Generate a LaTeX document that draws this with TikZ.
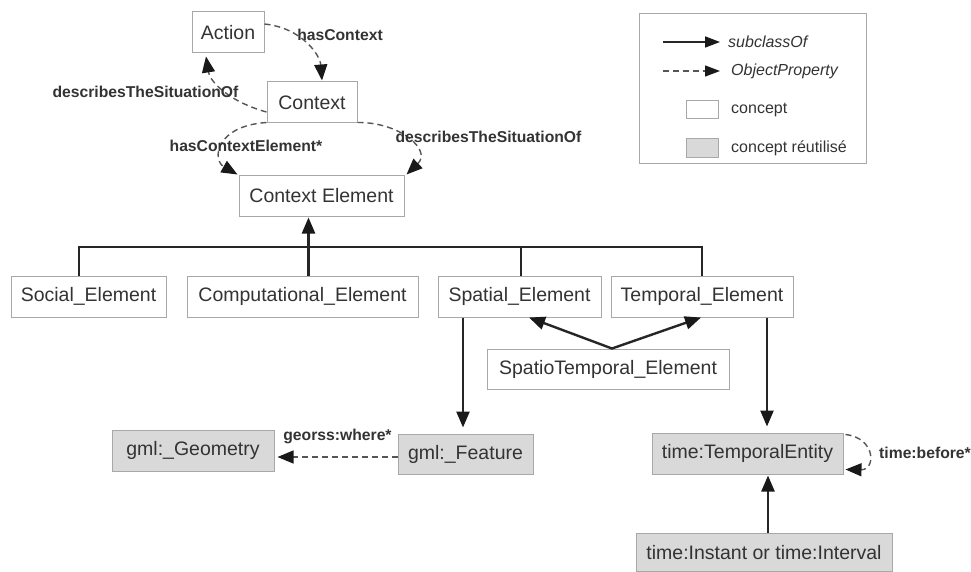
\documentclass[tikz,border=0pt]{standalone}
\usepackage{fontspec}
\setmainfont{Liberation Sans}
\usetikzlibrary{arrows.meta,calc}
\definecolor{txt}{HTML}{333333}
\definecolor{bord}{HTML}{A8A8A8}
\definecolor{reuse}{HTML}{D9D9D9}
\definecolor{dashc}{HTML}{555555}
\tikzset{
  concept/.style={draw=bord, line width=1pt, fill=white, inner sep=0pt, minimum height=41pt, text=txt, font=\fontsize{19.5}{22}\selectfont},
  reused/.style={concept, fill=reuse},
  sub/.style={line width=2.4pt, draw=black!85, -{Triangle[length=16pt,width=13pt,color=black!90]}},
  prop/.style={line width=1.4pt, draw=dashc, dash pattern=on 6pt off 4pt, -{Triangle[length=16pt,width=13pt,color=black!90]}},
  lbl/.style={font=\bfseries\fontsize{15.7}{18}\selectfont, text=txt, inner sep=0pt},
  legtxt/.style={font=\fontsize{16}{19}\selectfont, text=txt, inner sep=0pt, anchor=west},
  busline/.style={line width=2.4pt, draw=black!85}
}
\begin{document}
\begin{tikzpicture}[x=1pt,y=-1pt]
\useasboundingbox (0,0) rectangle (971,572);
% nodes
\node[concept, minimum width=72pt] (act) at (228,32.5) {Action};
\node[concept, minimum width=90pt] (ctx) at (312,102.5) {Context};
\node[concept, minimum width=165pt, minimum height=40pt] (ce) at (321.5,196) {Context Element};
\node[concept, minimum width=155pt] (soc) at (88.5,296.5) {Social\_Element};
\node[concept, minimum width=231pt] (comp) at (302.5,296.5) {Computational\_Element};
\node[concept, minimum width=163pt] (spa) at (519.5,296.5) {Spatial\_Element};
\node[concept, minimum width=182pt] (tem) at (702,296.5) {Temporal\_Element};
\node[concept, minimum width=242pt, minimum height=40pt] (st) at (608,369) {SpatioTemporal\_Element};
\node[reused, minimum width=162pt] (geo) at (193,450.5) {gml:\_Geometry};
\node[reused, minimum width=135pt, minimum height=40pt] (feat) at (465.5,454) {gml:\_Feature};
\node[reused, minimum width=191pt] (te) at (747.5,453.5) {time:TemporalEntity};
\node[reused, minimum width=256pt, minimum height=38pt] (inst) at (764,552.5) {time:Instant or time:Interval};

% bus
\coordinate (b1) at (79,247);
\coordinate (b2) at (308.5,247);
\coordinate (b3) at (521,247);
\coordinate (b4) at (702,247);
\draw[busline] (b1 |- soc.north) -- (b1) -- (b4) -- (b4 |- tem.north);
\draw[busline] (b2 |- comp.north) -- (b2);
\draw[busline] (b3 |- spa.north) -- (b3);
\draw[sub, shorten >=1pt] (b2) -- (b2 |- ce.south);

% spatio temporal
\coordinate (stt) at ($(st.north)+(4,0)$);
\draw[sub, line cap=round] (stt) -- ($(spa.south)+(9.5,0)$);
\draw[sub, line cap=round] (stt) -- ($(tem.south)+(-1,0)$);

% downward arrows
\coordinate (sx) at (463,0);
\coordinate (tx) at (767,0);
\coordinate (ix) at (768,0);
\draw[sub, shorten >=6pt] (sx |- spa.south) -- (sx |- feat.north);
\draw[sub, shorten >=6pt] (tx |- tem.south) -- (tx |- te.north);
\draw[sub, shorten >=1pt] (ix |- inst.north) -- (ix |- te.south);

% object properties
\draw[prop] ($(act.east)+(0,-8.5)$) .. controls (302,28) and (320,55) .. ($(ctx.north)+(10,-1)$);
\draw[prop] ($(ctx.west)+(0,9.5)$) .. controls (230,102) and (210,82) .. ($(act.south)+(-22,3)$);
\draw[prop] ($(ctx.south west)+(0,-1)$) .. controls (215,126) and (212,160) .. ($(ce.north west)+(-1,-1)$);
\draw[prop] ($(ctx.south east)+(0,-1)$) .. controls (400,122) and (432,150) .. ($(ce.north east)+(2,-1)$);
\coordinate (g1) at ($(feat.west)+(0,3)$);
\draw[prop, shorten >=3pt] (g1) -- (g1 -| geo.east);
\draw[prop] ($(te.north east)+(2,2)$) .. controls (876,438) and (876,470) .. ($(te.east)+(2,16)$);

% labels
\node[lbl] (l1) at (340,35) {hasContext};
\node[lbl] (l2) at (145.5,92) {describesTheSituationOf};
\node[lbl] (l3) at (246,146) {hasContextElement*};
\node[lbl] (l4) at (488.5,137) {describesTheSituationOf};
\node[lbl] (l5) at (337.5,436) {georss:where*};
\node[lbl] (l6) at (925,453) {time:before*};

% legend
\node[draw=bord, line width=1pt, minimum width=227pt, minimum height=150pt, inner sep=0pt] (leg) at (752.5,89) {};
\coordinate (la1) at (663,42);
\coordinate (la2) at (720,42);
\coordinate (lb1) at (663,71);
\coordinate (lb2) at (720,71);
\draw[sub, line width=1.6pt, -{Triangle[length=15pt,width=11pt,color=black!90]}] (la1) -- (la2);
\draw[prop, line width=1.3pt, -{Triangle[length=15pt,width=11pt,color=black!90]}] (lb1) -- (lb2);
\node[legtxt] (lt1) at (728,42) {\itshape subclassOf};
\node[legtxt] (lt2) at (731,71) {\itshape ObjectProperty};
\node[concept, minimum width=32pt, minimum height=18pt] (lc) at (702,110) {};
\node[legtxt] (lt3) at (731,110) {concept};
\node[reused, minimum width=32pt, minimum height=19pt] (lr) at (702,148.5) {};
\node[legtxt] (lt4) at (731,148.5) {concept réutilisé};
\end{tikzpicture}
\end{document}
